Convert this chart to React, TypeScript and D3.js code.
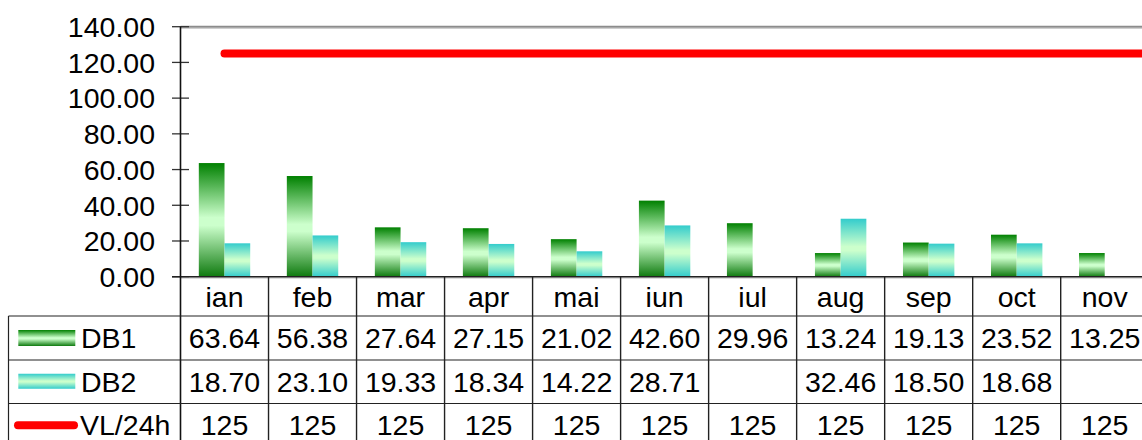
import React from "react";
import * as d3 from "d3";

const months = ["ian", "feb", "mar", "apr", "mai", "iun", "iul", "aug", "sep", "oct", "nov", "dec"];
const db1: (number | null)[] = [63.64, 56.38, 27.64, 27.15, 21.02, 42.6, 29.96, 13.24, 19.13, 23.52, 13.25, null];
const db2: (number | null)[] = [18.7, 23.1, 19.33, 18.34, 14.22, 28.71, null, 32.46, 18.5, 18.68, null, null];
const vl: number[] = [125, 125, 125, 125, 125, 125, 125, 125, 125, 125, 125, 125];
const yTicks = [0, 20, 40, 60, 80, 100, 120, 140];

const W = 1142;
const H = 440;
const FONT = "'Liberation Sans', Arial, sans-serif";
const FS = 28.5;

const plotLeft = 180.5;
const colW = 88.02;
const plotTop = 26.7;
const plotBottom = 276.7;
const rowTops = [276.7, 316, 360, 403.5, 447];
const tableLeft = 8.5;

export default function App() {
  const x = d3
    .scaleBand<string>()
    .domain(months)
    .range([plotLeft, plotLeft + colW * months.length])
    .padding(0);
  const y = d3.scaleLinear().domain([0, 140]).range([plotBottom, plotTop]);
  const barW = 25.7;
  const inner = d3
    .scaleBand<string>()
    .domain(["DB1", "DB2"])
    .range([0, barW * 2])
    .padding(0);
  const groupOff = (x.bandwidth() - barW * 2) / 2;

  const line = d3
    .line<number>()
    .x((_, i) => x(months[i])! + x.bandwidth() / 2)
    .y((d) => y(d));

  const series = [
    { name: "DB1", values: db1, grad: "url(#g1)" },
    { name: "DB2", values: db2, grad: "url(#g2)" },
  ];

  const mid = (i: number) => (rowTops[i] + rowTops[i + 1]) / 2;
  const base = (i: number) => mid(i) + FS * 0.358;
  // columns that start beyond the visible width are clipped away entirely
  const shown = (i: number) => x(months[i])! < W;
  const cx = (i: number) => x(months[i])! + x.bandwidth() / 2;

  return (
    <div style={{ position: "absolute", left: 0, top: 0 }}>
      <svg width={W} height={H} style={{ display: "block" }} fontFamily={FONT}>
        <defs>
          <linearGradient id="g1" x1="0" y1="0" x2="0" y2="1">
            <stop offset="0" stopColor="#008000" />
            <stop offset="0.48" stopColor="#ccffcc" />
            <stop offset="0.55" stopColor="#ccffcc" />
            <stop offset="1" stopColor="#0f7a0f" />
          </linearGradient>
          <linearGradient id="g2" x1="0" y1="0" x2="0" y2="1">
            <stop offset="0" stopColor="#33cccc" />
            <stop offset="0.48" stopColor="#ccffcc" />
            <stop offset="0.55" stopColor="#ccffcc" />
            <stop offset="1" stopColor="#33cccc" />
          </linearGradient>
        </defs>
        <rect width={W} height={H} fill="#fff" />

        {/* plot frame top */}
        <line x1={plotLeft} x2={W} y1={plotTop} y2={plotTop} stroke="#8c8c8c" strokeWidth={2} />
        <line x1={plotLeft} x2={W} y1={plotTop + 1.8} y2={plotTop + 1.8} stroke="#cfcfcf" strokeWidth={1} />

        {/* bars */}
        {series.map((s) =>
          s.values.map((v, i) =>
            v == null ? null : (
              <rect
                key={s.name + i}
                x={x(months[i])! + groupOff + inner(s.name)!}
                y={y(v)}
                width={inner.bandwidth()}
                height={y(0) - y(v)}
                fill={s.grad}
              />
            )
          )
        )}

        {/* limit line */}
        <path d={line(vl) || ""} stroke="#ff0000" strokeWidth={8} strokeLinecap="round" fill="none" />

        {/* y axis ticks + labels */}
        {yTicks.map((t) => (
          <g key={t}>
            <line x1={172} x2={189} y1={y(t)} y2={y(t)} stroke="#333" strokeWidth={1.3} />
            <text x={155} y={y(t) + FS * 0.36} textAnchor="end" fontSize={FS} fill="#000">
              {t.toFixed(2)}
            </text>
          </g>
        ))}

        {/* x axis line */}
        <line x1={plotLeft} x2={W} y1={plotBottom + 1.3} y2={plotBottom + 1.3} stroke="#bbb" strokeWidth={1} />
        <line x1={172} x2={W} y1={plotBottom} y2={plotBottom} stroke="#222" strokeWidth={1.6} />

        {/* y axis line */}
        <line x1={plotLeft} x2={plotLeft} y1={plotTop} y2={H} stroke="#111" strokeWidth={1.6} />

        {/* data table */}
        {months.map((m, i) =>
          i === 0 || !shown(i) ? null : (
            <line key={"c" + m} x1={x(m)!} x2={x(m)!} y1={plotBottom} y2={H} stroke="#222" strokeWidth={1.4} />
          )
        )}
        {rowTops.slice(1, 4).map((r) => (
          <line key={"r" + r} x1={tableLeft} x2={W} y1={r} y2={r} stroke="#222" strokeWidth={1.2} />
        ))}
        <line x1={tableLeft} x2={tableLeft} y1={rowTops[1]} y2={H} stroke="#222" strokeWidth={1.2} />

        {months.map((m, i) =>
          !shown(i) ? null : (
            <text key={"m" + m} x={cx(i)} y={base(0)} textAnchor="middle" fontSize={FS} fill="#000">
              {m}
            </text>
          )
        )}
        {[db1, db2].map((vals, r) =>
          vals.map((v, i) =>
            v == null || !shown(i) ? null : (
              <text key={"v" + r + i} x={cx(i)} y={base(r + 1)} textAnchor="middle" fontSize={FS} fill="#000">
                {v.toFixed(2)}
              </text>
            )
          )
        )}
        {vl.map((v, i) =>
          !shown(i) ? null : (
            <text key={"l" + i} x={cx(i)} y={base(3)} textAnchor="middle" fontSize={FS} fill="#000">
              {v}
            </text>
          )
        )}

        {/* legend keys */}
        <rect x={18.3} y={mid(1) - 8} width={57} height={16} fill="url(#g1)" />
        <text x={81} y={base(1)} fontSize={FS} fill="#000">DB1</text>
        <rect x={18.3} y={mid(2) - 8} width={57} height={15} fill="url(#g2)" />
        <text x={81} y={base(2)} fontSize={FS} fill="#000">DB2</text>
        <line x1={18} x2={74} y1={mid(3)} y2={mid(3)} stroke="#ff0000" strokeWidth={8} strokeLinecap="round" />
        <text x={80} y={base(3)} fontSize={FS} fill="#000">VL/24h</text>
      </svg>
    </div>
  );
}
